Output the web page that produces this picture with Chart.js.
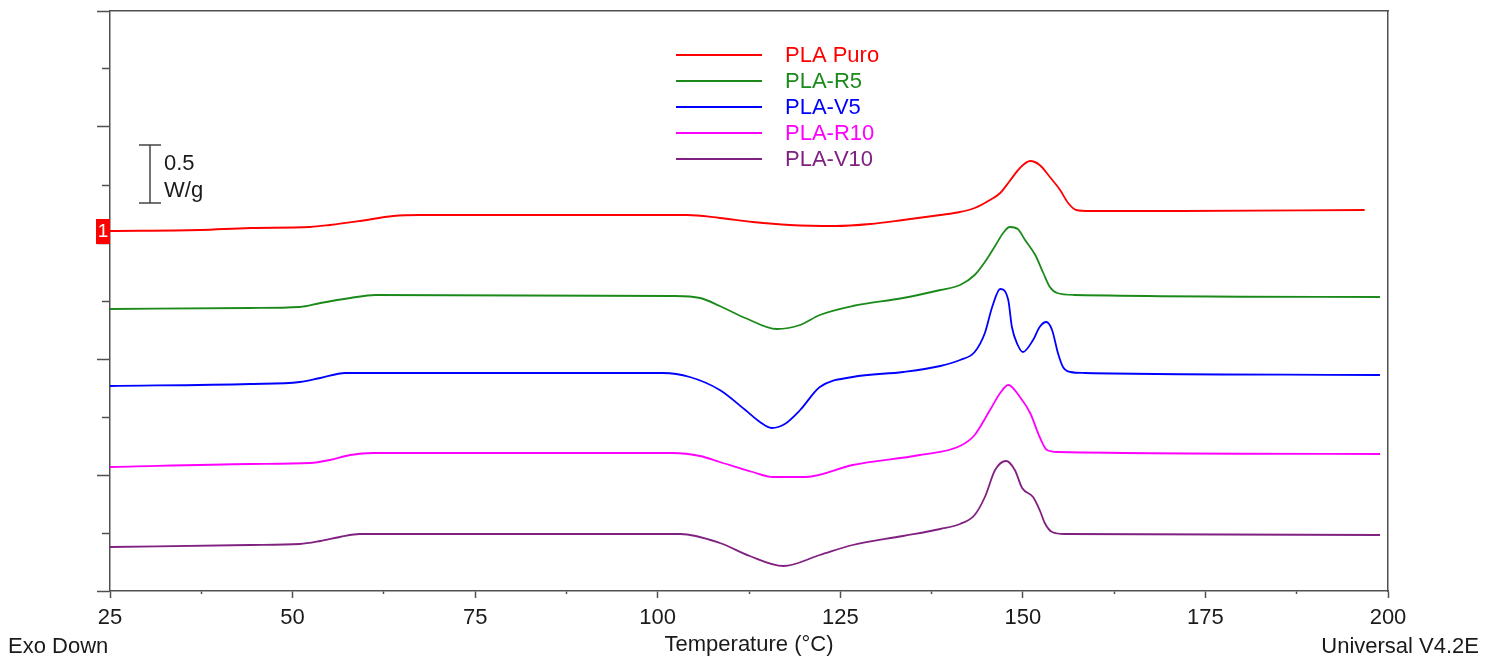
<!DOCTYPE html>
<html>
<head>
<meta charset="utf-8">
<title>DSC</title>
<script src="https://cdn.jsdelivr.net/npm/chart.js@4.4.0/dist/chart.umd.min.js"></script>
<style>
  html, body { margin: 0; padding: 0; background: #fff; }
  #wrap { position: relative; width: 1495px; height: 658px; }
</style>
</head>
<body>
<div id="wrap"><canvas id="dsc" width="1495" height="658"></canvas></div>
<script>
// Temperature (°C) and heat flow (offset, 58 units = 0.5 W/g)
const tempPuro = [25, 37.3, 44.2, 52.4, 55.1, 59.2, 63.8, 67.4, 104.0, 108.5, 113.0, 118.1, 124.3, 129.1, 133.6, 138.7, 141.4, 143.4, 145.5, 146.9, 148.2, 149.6, 151.0, 152.3, 153.7, 155.1, 156.2, 157.3, 159.2, 171.5, 196.8];
const flowPuro = [360, 361, 363, 364, 366, 370, 375, 376, 376, 373, 369, 366, 365, 367, 371, 376, 379, 383, 391, 398, 410, 423, 430, 426, 414, 401, 388, 381, 380, 380, 381];

const tempR5 = [25, 44.2, 51.0, 53.8, 57.9, 61.3, 102.1, 105.8, 108.5, 112.0, 116.3, 119.5, 122.2, 126.7, 133.6, 138.7, 141.4, 143.4, 144.8, 146.2, 147.3, 148.2, 149.3, 150.3, 151.7, 152.8, 153.7, 154.7, 157.1, 198.9];
const flowR5 = [282, 283, 284, 288, 293, 296, 295, 293, 285, 273, 262, 266, 276, 285, 293, 301, 306, 316, 329, 345, 358, 364, 362, 351, 336, 318, 304, 298, 296, 294];

const tempV5 = [25, 44.2, 51.0, 53.8, 57.2, 100.7, 104.4, 108.5, 112.0, 114.0, 115.6, 117.4, 119.5, 122.2, 126.7, 133.6, 138.7, 141.4, 143.4, 144.8, 145.8, 146.9, 148.0, 148.5, 149.3, 150.0, 151.4, 152.3, 153.2, 154.0, 154.8, 155.5, 156.5, 158.5, 198.9];
const flowV5 = [205, 207, 209, 213, 218, 218, 214, 201, 181, 169, 163, 167, 181, 204, 214, 219, 225, 231, 239, 258, 284, 302, 291, 264, 246, 239, 251, 264, 269, 261, 238, 224, 219, 218, 216];

const tempR10 = [25, 44.2, 52.4, 55.1, 57.9, 61.0, 102.1, 105.8, 108.5, 113.0, 115.8, 120.3, 126.7, 135.9, 141.4, 143.4, 145.5, 146.9, 148.0, 149.6, 151.0, 152.3, 153.3, 154.8, 198.9];
const flowR10 = [124, 127, 128, 131, 136, 138, 138, 135, 129, 119, 114, 114, 126, 136, 145, 156, 181, 198, 206, 194, 178, 154, 141, 139, 137];

const tempV10 = [25, 44.2, 51.0, 53.8, 56.5, 59.2, 103.1, 108.5, 112.6, 117.2, 122.2, 126.7, 133.6, 138.7, 141.4, 143.4, 144.8, 146.2, 147.7, 148.9, 149.9, 151.4, 152.3, 153.0, 154.0, 155.8, 198.9];
const flowV10 = [44, 46, 47, 50, 54, 57, 57, 48, 35, 25, 36, 46, 55, 62, 67, 76, 94, 121, 130, 121, 103, 94, 81, 68, 59, 57, 56];

const seriesNames = ['PLA Puro', 'PLA-R5', 'PLA-V5', 'PLA-R10', 'PLA-V10'];
const seriesColors = ['#ff0000', '#1b8a1b', '#0000ff', '#ff00ff', '#802080'];
const seriesTemps = [tempPuro, tempR5, tempV5, tempR10, tempV10];
const seriesFlows = [flowPuro, flowR5, flowV5, flowR10, flowV10];

const tempMin = 25, tempMax = 200, tempStep = 25;
const flowMin = 0, flowMax = 580, flowStep = 58;   // 58 = 0.5 W/g

const FONT = '"Liberation Sans", Arial, sans-serif';
const AXIS = '#505050';
const TEXT = '#1a1a1a';

const datasets = seriesNames.map((name, i) => ({
    label: name,
    data: seriesTemps[i].map((t, j) => ({ x: t, y: seriesFlows[i][j] })),
    borderColor: seriesColors[i],
    borderWidth: 1.8,
    pointRadius: 0,
    fill: false,
    cubicInterpolationMode: 'monotone',
    xAxisID: 'x',
    yAxisID: 'y',
}));

// legend, scale bar, marker and corner notes
const decor = {
    id: 'decor',
    afterDraw(chart) {
        const { ctx, chartArea, scales } = chart;
        const yS = scales.y;
        ctx.save();

        ctx.font = '22px ' + FONT;
        ctx.textBaseline = 'middle';
        chart.data.datasets.forEach((ds, i) => {
            const y = 55 + i * 26;
            ctx.strokeStyle = ds.borderColor;
            ctx.lineWidth = 2;
            ctx.beginPath();
            ctx.moveTo(676, y);
            ctx.lineTo(762, y);
            ctx.stroke();
            ctx.fillStyle = ds.borderColor;
            ctx.textAlign = 'left';
            ctx.fillText(ds.label, 785, y + 1);
        });

        // 0.5 W/g scale bar
        const barTop = chartArea.top + 134;
        const barH = yS.getPixelForValue(0) - yS.getPixelForValue(flowStep);
        ctx.strokeStyle = '#444';
        ctx.lineWidth = 1.5;
        ctx.beginPath();
        ctx.moveTo(150, barTop); ctx.lineTo(150, barTop + barH);
        ctx.moveTo(139, barTop); ctx.lineTo(161, barTop);
        ctx.moveTo(139, barTop + barH); ctx.lineTo(161, barTop + barH);
        ctx.stroke();
        ctx.fillStyle = TEXT;
        ctx.textAlign = 'left';
        ctx.textBaseline = 'alphabetic';
        ctx.fillText('0.5', 164, 170);
        ctx.fillText('W/g', 164, 197);

        // curve marker "1" at the start of the first curve
        const py = yS.getPixelForValue(flowPuro[0]);
        ctx.fillStyle = '#ff0000';
        ctx.fillRect(chartArea.left - 14, py - 12, 14, 25);
        ctx.fillStyle = '#fff';
        ctx.font = '19px ' + FONT;
        ctx.textAlign = 'center';
        ctx.textBaseline = 'middle';
        ctx.fillText('1', chartArea.left - 7, py + 1);

        ctx.font = '22px ' + FONT;
        ctx.fillStyle = TEXT;
        ctx.textBaseline = 'alphabetic';
        ctx.textAlign = 'left';
        ctx.fillText('Exo Down', 8, 653);
        ctx.textAlign = 'right';
        ctx.fillText('Universal V4.2E', 1479, 653);
        ctx.restore();
    }
};

new Chart(document.getElementById('dsc'), {
    type: 'line',
    data: { datasets },
    options: {
        responsive: false,
        animation: false,
        layout: { padding: { left: 97, right: 107, top: 11, bottom: 0 } },
        plugins: { legend: { display: false }, tooltip: { enabled: false } },
        scales: {
            x: {
                type: 'linear', position: 'bottom', weight: 1,
                min: tempMin, max: tempMax,
                ticks: { stepSize: tempStep, maxTicksLimit: 100, autoSkip: false, maxRotation: 0,
                         color: TEXT, font: { size: 22, family: FONT }, padding: 7 },
                grid: { drawOnChartArea: false, tickLength: 4, color: AXIS, tickWidth: 1.5 },
                border: { display: false },
                title: { display: true, text: 'Temperature (°C)', color: TEXT,
                         font: { size: 22, family: FONT }, padding: { top: 0, bottom: 0 } },
                afterFit: s => { s.height = 64; },
            },
            xMinor: {
                type: 'linear', position: 'bottom', weight: 0,
                min: tempMin, max: tempMax,
                ticks: { display: false, stepSize: tempStep / 2, maxTicksLimit: 100 },
                grid: { drawOnChartArea: false, tickLength: 3, color: AXIS, tickWidth: 1.5 },
                border: { display: true, color: AXIS, width: 1.5 },
                afterFit: s => { s.height = 3; },
            },
            xTop: {
                type: 'linear', position: 'top',
                min: tempMin, max: tempMax,
                ticks: { display: false },
                grid: { display: false },
                border: { display: true, color: AXIS, width: 1.5 },
                afterFit: s => { s.height = 0; },
            },
            y: {
                type: 'linear', position: 'left', weight: 0,
                min: flowMin, max: flowMax,
                ticks: { display: false, stepSize: flowStep, maxTicksLimit: 100 },
                grid: { drawOnChartArea: false, tickLength: 8, color: AXIS, tickWidth: 1.5 },
                border: { display: true, color: AXIS, width: 1.5 },
                afterFit: s => { s.width = 8; },
            },
            yMajor: {
                type: 'linear', position: 'left', weight: 1,
                min: flowMin, max: flowMax,
                ticks: { display: false, stepSize: flowStep * 2, maxTicksLimit: 100 },
                grid: { drawOnChartArea: false, tickLength: 5, color: AXIS, tickWidth: 1.5 },
                border: { display: false },
                afterFit: s => { s.width = 5; },
            },
            yRight: {
                type: 'linear', position: 'right',
                min: flowMin, max: flowMax,
                ticks: { display: false },
                grid: { display: false },
                border: { display: true, color: AXIS, width: 1.5 },
                afterFit: s => { s.width = 0; },
            },
        },
    },
    plugins: [decor],
});
</script>
</body>
</html>
